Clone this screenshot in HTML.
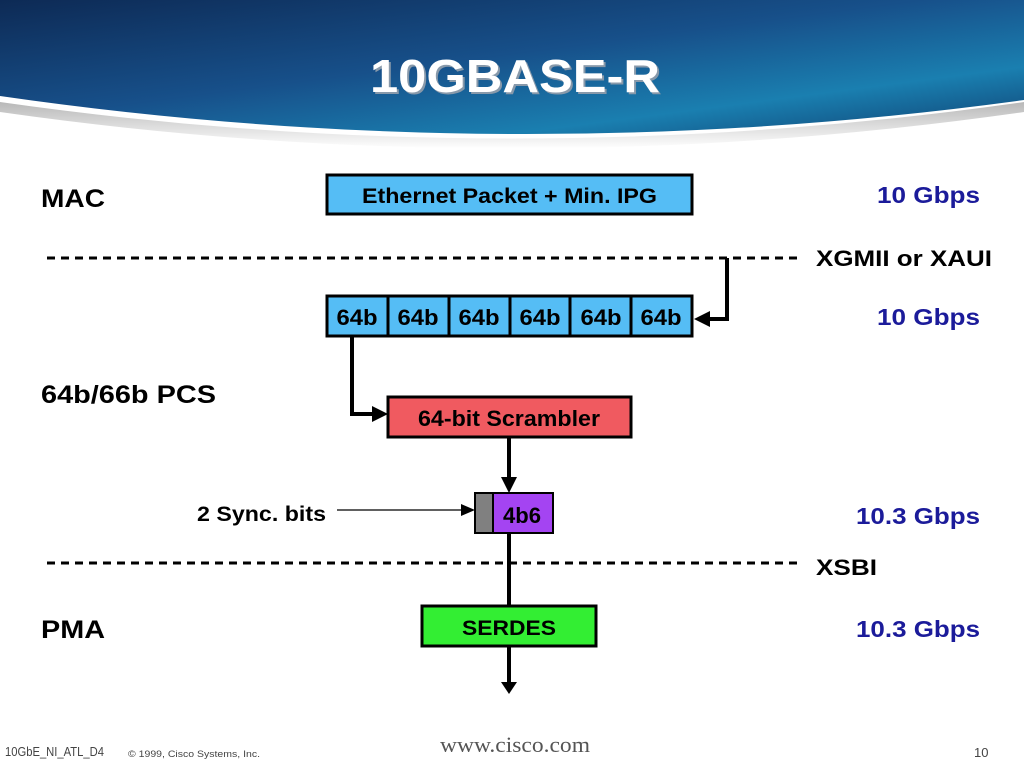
<!DOCTYPE html>
<html><head><meta charset="utf-8"><style>
html,body{margin:0;padding:0;background:#fff;width:1024px;height:768px;overflow:hidden}
svg{display:block}
text{font-family:"Liberation Sans",Arial,sans-serif}
</style></head><body>
<svg width="1024" height="768" viewBox="0 0 1024 768">
<defs>
<linearGradient id="hg" x1="0" y1="0" x2="1" y2="1">
<stop offset="0" stop-color="#0d2a55"/>
<stop offset="0.45" stop-color="#17508a"/>
<stop offset="0.75" stop-color="#1a7fb0"/>
<stop offset="1" stop-color="#0f3f70"/>
</linearGradient>
<linearGradient id="sh" x1="0" y1="0" x2="0" y2="1">
<stop offset="0" stop-color="#888"/><stop offset="1" stop-color="#fff"/>
</linearGradient>
</defs>
<path d="M0,102 Q512,175 1024,102 L1024,112 Q512,185 0,112 Z" fill="url(#sh)" opacity="0.6"/>
<path d="M0,0 H1024 V100 Q512,170 0,96 Z" fill="url(#hg)"/>
<text x="517" y="94" text-anchor="middle" font-size="46" font-weight="bold" fill="#8899aa" textLength="290" lengthAdjust="spacingAndGlyphs">10GBASE-R</text>
<text x="515" y="92" text-anchor="middle" font-size="46" font-weight="bold" fill="#fff" textLength="290" lengthAdjust="spacingAndGlyphs">10GBASE-R</text>

<g font-weight="bold" font-size="25" fill="#000">
<text x="41" y="207" textLength="64" lengthAdjust="spacingAndGlyphs">MAC</text>
<text x="41" y="403" textLength="175" lengthAdjust="spacingAndGlyphs">64b/66b PCS</text>
<text x="41" y="638" textLength="64" lengthAdjust="spacingAndGlyphs">PMA</text>
</g>
<g font-weight="bold" font-size="23" fill="#1b1b9a">
<text x="877" y="203" textLength="103" lengthAdjust="spacingAndGlyphs">10 Gbps</text>
<text x="877" y="325" textLength="103" lengthAdjust="spacingAndGlyphs">10 Gbps</text>
<text x="856" y="524" textLength="124" lengthAdjust="spacingAndGlyphs">10.3 Gbps</text>
<text x="856" y="637" textLength="124" lengthAdjust="spacingAndGlyphs">10.3 Gbps</text>
</g>
<g font-weight="bold" font-size="22" fill="#000">
<text x="816" y="266" textLength="176" lengthAdjust="spacingAndGlyphs">XGMII or XAUI</text>
<text x="816" y="575" textLength="61" lengthAdjust="spacingAndGlyphs">XSBI</text>
</g>
<line x1="47" y1="258" x2="800" y2="258" stroke="#000" stroke-width="3" stroke-dasharray="8,6"/>
<line x1="47" y1="563" x2="800" y2="563" stroke="#000" stroke-width="3" stroke-dasharray="8,6"/>

<rect x="327" y="175" width="365" height="39" fill="#55bdf5" stroke="#000" stroke-width="3"/>
<text x="362" y="203" font-size="21" font-weight="bold" textLength="295" lengthAdjust="spacingAndGlyphs">Ethernet Packet + Min. IPG</text>

<rect x="327" y="296" width="365" height="40" fill="#55bdf5" stroke="#000" stroke-width="3"/>
<g stroke="#000" stroke-width="3">
<line x1="388" y1="296" x2="388" y2="336"/><line x1="449" y1="296" x2="449" y2="336"/>
<line x1="510" y1="296" x2="510" y2="336"/><line x1="570" y1="296" x2="570" y2="336"/>
<line x1="631" y1="296" x2="631" y2="336"/>
</g>
<g font-size="22" font-weight="bold" text-anchor="middle">
<text x="357" y="325" textLength="41" lengthAdjust="spacingAndGlyphs">64b</text><text x="418" y="325" textLength="41" lengthAdjust="spacingAndGlyphs">64b</text><text x="479" y="325" textLength="41" lengthAdjust="spacingAndGlyphs">64b</text>
<text x="540" y="325" textLength="41" lengthAdjust="spacingAndGlyphs">64b</text><text x="601" y="325" textLength="41" lengthAdjust="spacingAndGlyphs">64b</text><text x="661" y="325" textLength="41" lengthAdjust="spacingAndGlyphs">64b</text>
</g>
<polyline points="727,258 727,319 708,319" fill="none" stroke="#000" stroke-width="4"/>
<polygon points="694,319 710,311 710,327" fill="#000"/>

<polyline points="352,336 352,414 374,414" fill="none" stroke="#000" stroke-width="4"/>
<polygon points="388,414 372,406 372,422" fill="#000"/>
<rect x="388" y="397" width="243" height="40" fill="#f05a60" stroke="#000" stroke-width="3"/>
<text x="418" y="426" font-size="22" font-weight="bold" textLength="182" lengthAdjust="spacingAndGlyphs">64-bit Scrambler</text>

<line x1="509" y1="437" x2="509" y2="478" stroke="#000" stroke-width="4"/>
<polygon points="509,493 501,477 517,477" fill="#000"/>
<rect x="475" y="493" width="18" height="40" fill="#808080" stroke="#000" stroke-width="2"/>
<rect x="493" y="493" width="60" height="40" fill="#a444f2" stroke="#000" stroke-width="2"/>
<text x="503" y="523" font-size="22" font-weight="bold" textLength="38" lengthAdjust="spacingAndGlyphs">4b6</text>
<text x="197" y="521" font-size="21" font-weight="bold" fill="#000" textLength="129" lengthAdjust="spacingAndGlyphs">2 Sync. bits</text>
<line x1="337" y1="510" x2="462" y2="510" stroke="#000" stroke-width="1.2"/>
<polygon points="475,510 461,504 461,516" fill="#000"/>

<line x1="509" y1="533" x2="509" y2="606" stroke="#000" stroke-width="4"/>
<rect x="422" y="606" width="174" height="40" fill="#33ee33" stroke="#000" stroke-width="3"/>
<text x="462" y="635" font-size="21" font-weight="bold" textLength="94" lengthAdjust="spacingAndGlyphs">SERDES</text>
<line x1="509" y1="646" x2="509" y2="684" stroke="#000" stroke-width="4"/>
<polygon points="509,694 501,682 517,682" fill="#000"/>

<text x="5" y="756" font-size="13" fill="#444" textLength="99" lengthAdjust="spacingAndGlyphs">10GbE_NI_ATL_D4</text>
<text x="128" y="757" font-size="9" fill="#444" textLength="132" lengthAdjust="spacingAndGlyphs">© 1999, Cisco Systems, Inc.</text>
<text x="440" y="752" font-size="22" fill="#555" style="font-family:'Liberation Serif',serif" textLength="150" lengthAdjust="spacingAndGlyphs">www.cisco.com</text>
<text x="974" y="757" font-size="13" fill="#444">10</text>
</svg>
</body></html>
